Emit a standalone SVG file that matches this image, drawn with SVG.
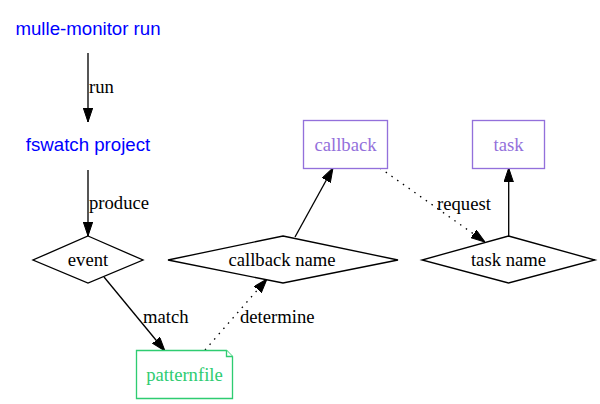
<svg xmlns="http://www.w3.org/2000/svg" width="600" height="404" viewBox="0 0 600 404">
<defs>
<style>
.t{font-family:"Liberation Serif","Times New Roman",serif;font-size:18.67px;fill:#000;text-anchor:middle}
.s{font-family:"Liberation Sans",Arial,sans-serif;font-size:18.67px;fill:#0000ff;text-anchor:middle}
.l{font-family:"Liberation Serif","Times New Roman",serif;font-size:18.67px;fill:#000;text-anchor:start}
.e{fill:none;stroke:#000;stroke-width:1.33}
.d{stroke-dasharray:1.5,5.5}
.n{fill:#fff;stroke:#000;stroke-width:1.33}
.p{fill:#fff;stroke:#9370db;stroke-width:1.33}
.g{fill:#fff;stroke:#2ecc71;stroke-width:1.33}
</style>
<marker id="ah" viewBox="0 0 14 10" refX="14" refY="5" markerWidth="14" markerHeight="10" markerUnits="userSpaceOnUse" orient="auto">
<path d="M0,0.3L14,5L0,9.7z" fill="#000" stroke="#000" stroke-width="1"/>
</marker>
</defs>
<g id="edges">
<g id="e-run"><path class="e" d="M88,53L88,122" marker-end="url(#ah)"/><text class="l" x="89" y="93">run</text></g>
<g id="e-produce"><path class="e" d="M88,170L88,236" marker-end="url(#ah)"/><text class="l" x="89" y="209">produce</text></g>
<g id="e-match"><path class="e" d="M104,277L165,351" marker-end="url(#ah)"/><text class="l" x="143" y="323">match</text></g>
<g id="e-determine"><path class="e d" d="M205,350L267,279" marker-end="url(#ah)"/><text class="l" x="240" y="323">determine</text></g>
<g id="e-callback"><path class="e" d="M295,237L333,168" marker-end="url(#ah)"/></g>
<g id="e-request"><path class="e d" d="M380,168L485,242" marker-end="url(#ah)"/><text class="l" x="437" y="210">request</text></g>
<g id="e-task"><path class="e" d="M508.7,236L508.7,168" marker-end="url(#ah)"/></g>
</g>
<g id="n-mulle"><text class="s" x="88" y="35">mulle-monitor run</text></g>
<g id="n-fswatch"><text class="s" x="88" y="151">fswatch project</text></g>
<g id="n-event"><polygon class="n" points="88,236 143,260 88,283 33,260"/><text class="t" x="88" y="266">event</text></g>
<g id="n-callbackname"><polygon class="n" points="283,236 398,260 283,283 168,260"/><text class="t" x="282" y="266">callback name</text></g>
<g id="n-taskname"><polygon class="n" points="508.5,236 595,260 508.5,283 422,260"/><text class="t" x="508.5" y="266">task name</text></g>
<g id="n-callback"><rect class="p" x="303.5" y="120.5" width="84" height="48"/><text class="t" x="345.5" y="151" style="fill:#9370db">callback</text></g>
<g id="n-task"><rect class="p" x="472.5" y="120.5" width="72" height="48"/><text class="t" x="508.5" y="151" style="fill:#9370db">task</text></g>
<g id="n-patternfile"><path class="g" d="M136.5,350.5L226.5,350.5L232.5,356.5L232.5,398.5L136.5,398.5Z"/><path class="g" d="M226.5,350.5L226.5,356.5L232.5,356.5" fill="none"/><text class="t" x="184.5" y="381" style="fill:#2ecc71">patternfile</text></g>
</svg>
